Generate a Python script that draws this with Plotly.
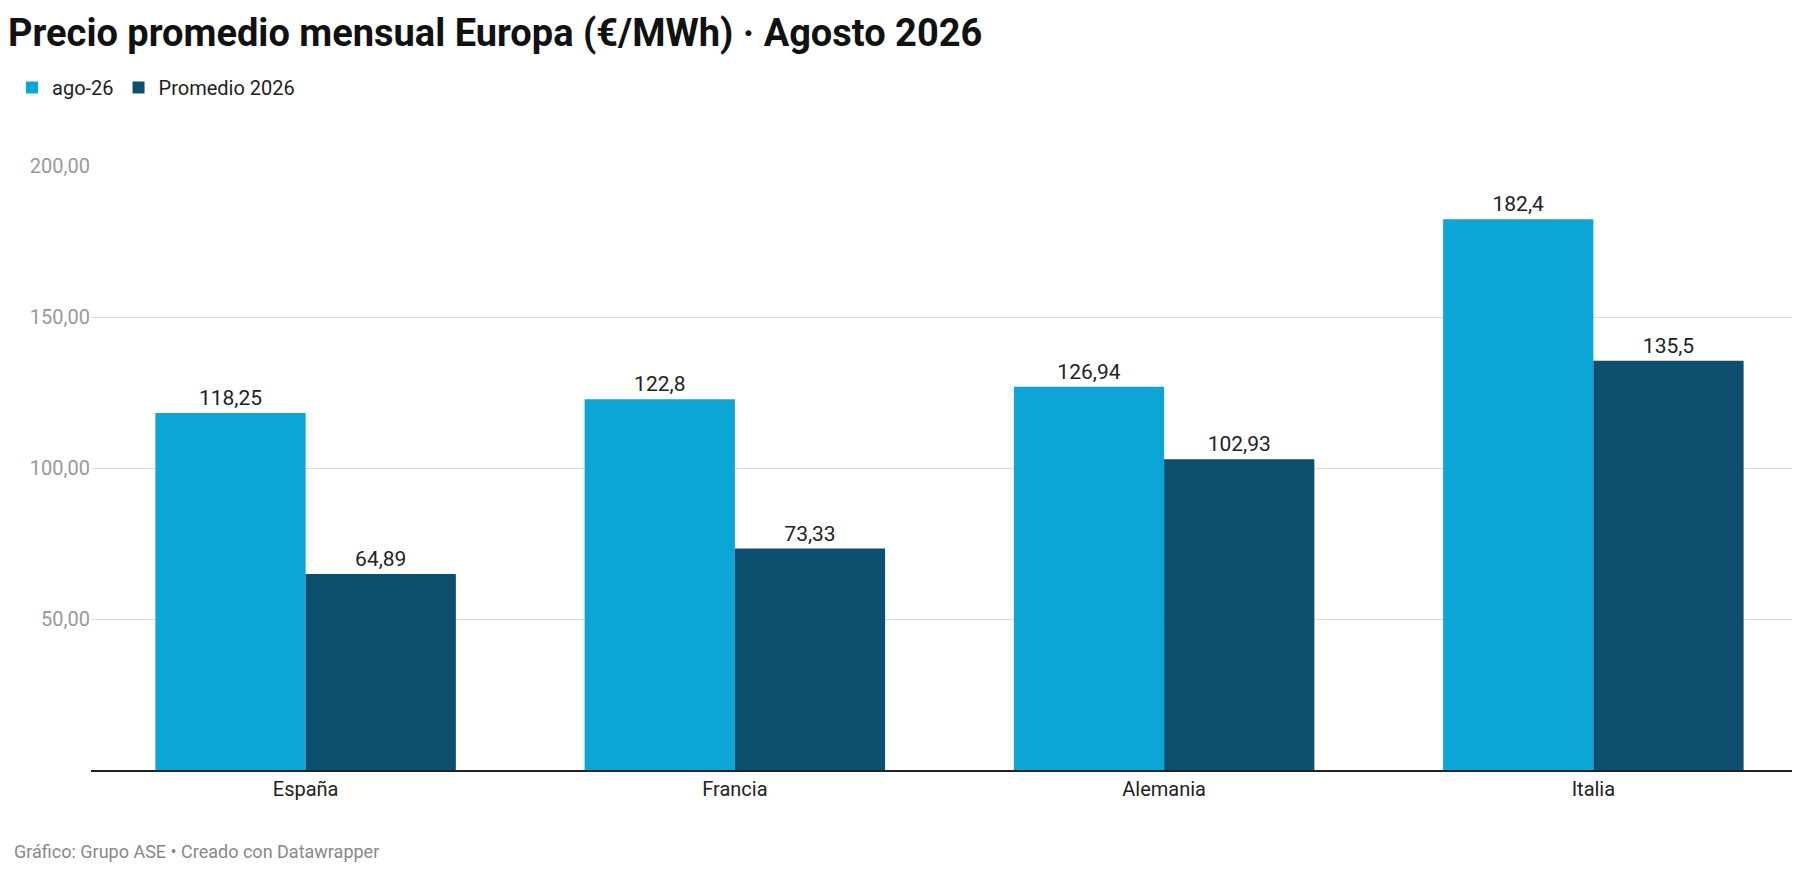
import plotly.graph_objects as go

categories = ["España", "Francia", "Alemania", "Italia"]
ago26 = [118.25, 122.8, 126.94, 182.4]
prom2026 = [64.89, 73.33, 102.93, 135.5]
tick_vals = [50, 100, 150, 200]

def lbl(vals):
    return [("%g" % v).replace(".", ",") for v in vals]

fig = go.Figure()
fig.add_bar(x=categories, y=ago26, name="ago-26", marker_color="#0ba5d6",
            text=lbl(ago26), textposition="outside", cliponaxis=False,
            marker_line_width=0, textfont=dict(size=21, color="#222"))
fig.add_bar(x=categories, y=prom2026, name="Promedio 2026", marker_color="#0d4f6e",
            text=lbl(prom2026), textposition="outside", cliponaxis=False,
            marker_line_width=0, textfont=dict(size=21, color="#222"))

fig.update_layout(
    width=1800, height=872, separators=",.",
    font=dict(family="Roboto", size=20, color="#222"),
    paper_bgcolor="white", plot_bgcolor="white",
    barmode="group", bargap=0.3, bargroupgap=0,
    margin=dict(l=83, r=0, t=158, b=110),
    title=dict(text="<b>Precio promedio mensual Europa (€/MWh) · Agosto 2026</b>",
               x=0, xref="container", xanchor="left", y=0.972, yanchor="middle",
               font=dict(size=38, color="#111")),
    legend=dict(orientation="h", x=-0.046, xanchor="left", y=1.13, yanchor="middle",
                font=dict(size=20), itemwidth=30, traceorder="normal"),
    showlegend=True,
)
fig.update_xaxes(showline=True, linecolor="#222", linewidth=1.5, ticks="",
                 tickfont=dict(size=20, color="#222"))
fig.update_yaxes(range=[0, 200], tickvals=tick_vals, tickformat=".2f",
                 gridcolor="#dcdcdc", zeroline=False, ticks="",
                 tickfont=dict(size=20, color="#999"))
fig.add_annotation(text="Gráfico: Grupo ASE • Creado con Datawrapper", xref="paper",
                   yref="paper", x=-0.046, y=-0.135, xanchor="left", yanchor="middle",
                   showarrow=False, font=dict(size=18, color="#888"))
fig.write_html("out.html")
